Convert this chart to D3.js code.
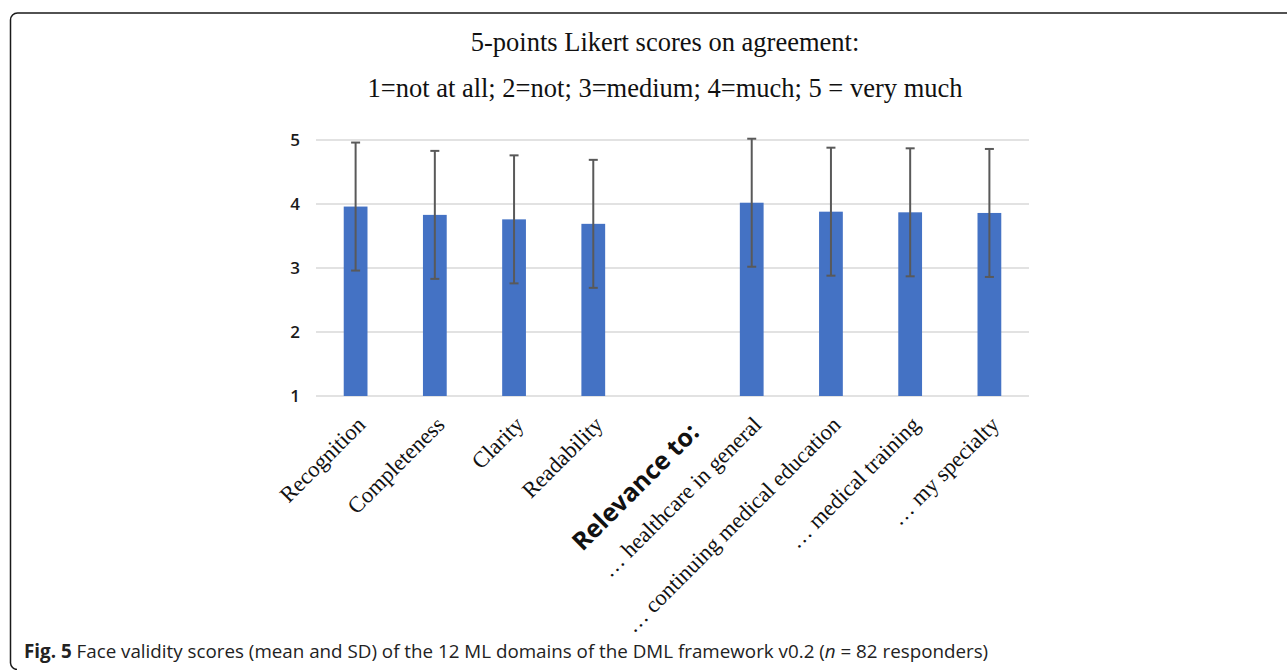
<!DOCTYPE html>
<html>
<head>
<meta charset="utf-8">
<script src="https://cdn.jsdelivr.net/npm/d3@7"></script>
<style>
  body { margin: 0; background: #fff; }
  svg { display: block; }
</style>
</head>
<body>
<div id="chart"></div>
<script>
// ---- data ----
const categories = [
    "Recognition", "Completeness", "Clarity", "Readability",
    "Relevance to:",
    "\u2026 healthcare in general", "\u2026 continuing medical education",
    "\u2026 medical training", "\u2026 my specialty"
];
// null = header slot with no bar
const means = [3.96, 3.83, 3.76, 3.69, null, 4.02, 3.88, 3.87, 3.86];
const sds = [1.00, 1.00, 1.00, 1.00, null, 1.00, 1.00, 1.00, 1.00];
const yTicks = [1, 2, 3, 4, 5];
const titleLines = [
    "5-points Likert scores on agreement:",
    "1=not at all; 2=not; 3=medium; 4=much; 5 = very much"
];
const captionBold = "Fig. 5";
const captionText = " Face validity scores (mean and SD) of the 12 ML domains of the DML framework v0.2 (";
const captionN = "n";
const captionEnd = " = 82 responders)";

const W = 1287, H = 670;
const margin = { top: 140, left: 316, right: 258, bottom: 274 };
const width = W - margin.left - margin.right;
const height = H - margin.top - margin.bottom;

const svg = d3.select("#chart").append("svg")
    .attr("width", W)
    .attr("height", H);

svg.append("rect").attr("width", W).attr("height", H).attr("fill", "#fff");

// figure frame (top + left edge with rounded corners)
svg.append("path")
    .attr("d", "M 17 669.5 A 7 7 0 0 1 10.5 663 V 20 A 7 7 0 0 1 17.5 13 H 1287")
    .attr("fill", "none")
    .attr("stroke", "#1a1a1a")
    .attr("stroke-width", 1.5);

// titles
svg.selectAll(".title")
    .data(titleLines)
    .enter().append("text")
    .attr("class", "title")
    .attr("x", 665)
    .attr("y", (d, i) => 51 + i * 46)
    .attr("text-anchor", "middle")
    .style("font-family", "'Liberation Serif', 'Times New Roman', serif")
    .style("font-size", "26.5px")
    .style("fill", "#111")
    .text(d => d);

const g = svg.append("g")
    .attr("transform", "translate(" + margin.left + "," + margin.top + ")");

const x = d3.scaleBand()
    .domain(categories)
    .range([0, width])
    .paddingInner(0.7)
    .paddingOuter(0.35);

const y = d3.scaleLinear()
    .domain([1, 5])
    .range([height, 0]);

// gridlines
g.selectAll(".grid")
    .data(yTicks)
    .enter().append("line")
    .attr("class", "grid")
    .attr("x1", 0)
    .attr("x2", width)
    .attr("y1", d => y(d))
    .attr("y2", d => y(d))
    .attr("stroke", "#d9d9d9")
    .attr("stroke-width", 1.5);

// y axis labels
const yAxis = d3.axisLeft(y).tickValues(yTicks).tickSize(0).tickPadding(26).tickFormat(d3.format("d"));
g.append("g")
    .call(yAxis)
    .call(s => s.select(".domain").remove())
    .selectAll("text")
    .attr("text-anchor", "middle")
    .attr("dx", "0.3em")
    .style("font-family", "'Open Sans', sans-serif")
    .style("font-size", "17px")
    .style("font-weight", "600")
    .style("fill", "#1a1a1a");

const barData = categories.map((c, i) => ({ name: c, mean: means[i], sd: sds[i] }))
    .filter(d => d.mean !== null);

// bars
g.selectAll(".bar")
    .data(barData)
    .enter().append("rect")
    .attr("class", "bar")
    .attr("x", d => x(d.name))
    .attr("width", x.bandwidth())
    .attr("y", d => y(d.mean))
    .attr("height", d => y(1) - y(d.mean))
    .attr("fill", "#4472c4");

// error bars
const capHalf = 4.5;
const err = g.selectAll(".err")
    .data(barData)
    .enter().append("g")
    .attr("class", "err")
    .attr("transform", d => "translate(" + (x(d.name) + x.bandwidth() / 2) + ",0)")
    .attr("stroke", "#595959")
    .attr("stroke-width", 2);

err.append("line")
    .attr("y1", d => y(d.mean - d.sd))
    .attr("y2", d => y(d.mean + d.sd));
err.append("line")
    .attr("x1", -capHalf).attr("x2", capHalf)
    .attr("y1", d => y(d.mean + d.sd)).attr("y2", d => y(d.mean + d.sd));
err.append("line")
    .attr("x1", -capHalf).attr("x2", capHalf)
    .attr("y1", d => y(d.mean - d.sd)).attr("y2", d => y(d.mean - d.sd));

// rotated category labels
g.selectAll(".xlab")
    .data(categories)
    .enter().append("text")
    .attr("class", "xlab")
    .attr("transform", (d, i) => {
        const cx = x(d) + x.bandwidth() / 2 + (i === 4 ? 28 : 11);
        const cy = height + (i === 4 ? 38 : 30);
        return "translate(" + cx + "," + cy + ") rotate(-45)";
    })
    .attr("text-anchor", "end")
    .style("font-family", (d, i) => i === 4 ? "'Open Sans', sans-serif" : "'Liberation Serif', 'Times New Roman', serif")
    .style("font-weight", (d, i) => i === 4 ? "700" : "400")
    .style("font-size", (d, i) => i === 4 ? "25px" : "22.5px")
    .style("fill", "#111")
    .text(d => d);

// caption
const cap = svg.append("text")
    .attr("x", 24)
    .attr("y", 658)
    .style("font-family", "'Open Sans', sans-serif")
    .style("font-size", "18.8px")
    .style("fill", "#222");
cap.append("tspan").style("font-weight", "700").text(captionBold);
cap.append("tspan").text(captionText);
cap.append("tspan").style("font-style", "italic").text(captionN);
cap.append("tspan").text(captionEnd);
</script>
</body>
</html>
